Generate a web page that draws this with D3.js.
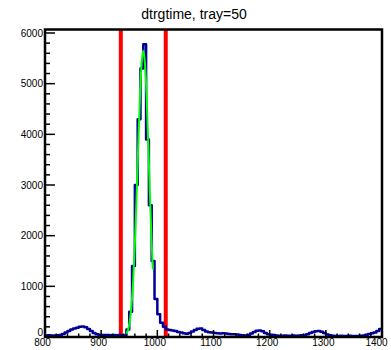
<!DOCTYPE html>
<html><head><meta charset="utf-8">
<script src="https://cdn.jsdelivr.net/npm/d3@7"></script>
<style>html,body{margin:0;padding:0;background:#fff;}svg{display:block;}</style>
</head><body>
<script>
const title = "dtrgtime, tray=50";
const binStart = 800, binWidth = 5;
const counts = [
 30,35,30,30,35,40,60,90,120,150,170,185,200,205,190,160,120,80,55,45,
 40,40,40,35,40,35,40,35,30,150,500,1400,3000,4300,5300,5780,3900,2600,1500,750,
 450,280,200,150,140,130,120,100,90,75,65,80,110,140,165,170,140,110,95,90,
 80,75,70,75,70,60,55,55,50,40,35,30,40,70,100,125,130,115,80,55,
 45,40,30,25,25,30,25,25,30,25,30,35,40,55,80,100,115,120,105,80,
 50,35,25,20,20,25,20,20,25,20,20,20,25,30,45,60,75,90,120,160
];
const fitX = [945,948,951,954,957,960,963,966,969,972,975,978,981,984,987,990,992];
const fitY = [63,148,317,624,1118,1835,2750,3769,4719,5401,5650,5401,4719,3769,2750,1835,1331];
const cutLines = [935, 1015];
const xTicks = [800,900,1000,1100,1200,1300,1400];
const yTicks = [0,1000,2000,3000,4000,5000,6000];

const W = 391, H = 350;
const L = 45, R = 382, T = 29.5, B = 337;
const FONT = "Liberation Sans, Arial, sans-serif";
const svg = d3.select("body").append("svg").attr("width", W).attr("height", H);
const x = d3.scaleLinear().domain([800, 1400]).range([L, R]);
const y = d3.scaleLinear().domain([0, 6069]).range([B, T]);

svg.append("defs").append("clipPath").attr("id","clip")
  .append("rect").attr("x", L).attr("y", T).attr("width", R-L).attr("height", B-T);

svg.append("text").attr("x", 194).attr("y", 19).attr("text-anchor","middle")
  .attr("font-family",FONT).attr("font-size",14).text(title);

const g = svg.append("g").attr("clip-path","url(#clip)");

// red cut lines
g.selectAll("line.cut").data(cutLines).enter().append("line")
  .attr("x1", d=>x(d)).attr("x2", d=>x(d)).attr("y1", T).attr("y2", B)
  .attr("stroke","#ff0000").attr("stroke-width",4);

// histogram steps
const pts = [];
counts.forEach((c,i)=>{ pts.push([binStart+i*binWidth, c]); pts.push([binStart+(i+1)*binWidth, c]); });
g.append("path").datum(pts)
  .attr("d", d3.line().x(d=>x(d[0])).y(d=>y(d[1])))
  .attr("fill","none").attr("stroke","#000099").attr("stroke-width",2.5).attr("stroke-linejoin","round");

// fit curve
g.append("path").datum(fitX.map((v,i)=>[v, fitY[i]]))
  .attr("d", d3.line().x(d=>x(d[0])).y(d=>y(d[1])).curve(d3.curveMonotoneX))
  .attr("fill","none").attr("stroke","#00ff00").attr("stroke-width",2);

// axes
const xAxis = d3.axisBottom(x).tickValues(xTicks).tickFormat(d3.format("d")).tickSize(0).tickPadding(2);
const xa = svg.append("g").attr("transform",`translate(0,${B})`).call(xAxis);
xa.select(".domain").remove();
xa.selectAll("text").attr("font-family",FONT).attr("font-size",10).attr("fill","#000")
  .attr("dx", d => d===1400 ? -6 : -3);

const yAxis = d3.axisLeft(y).tickValues(yTicks).tickFormat(d3.format("d")).tickSize(0).tickPadding(2);
const ya = svg.append("g").attr("transform",`translate(${L},0)`).call(yAxis);
ya.select(".domain").remove();
ya.selectAll("text").attr("font-family",FONT).attr("font-size",10).attr("fill","#000")
  .attr("dy", d => d===0 ? "-0.2em" : "0.32em");

// ticks inward
const xMinor = d3.range(800, 1401, 20);
svg.selectAll("line.xt").data(xMinor).enter().append("line")
  .attr("x1", d=>x(d)).attr("x2", d=>x(d)).attr("y1", B)
  .attr("y2", d=> (d%100===0) ? B-7 : B-3.5).attr("stroke","#000").attr("stroke-width",1.5);
const yMinor = d3.range(0, 6001, 200);
svg.selectAll("line.yt").data(yMinor).enter().append("line")
  .attr("y1", d=>y(d)).attr("y2", d=>y(d)).attr("x1", L)
  .attr("x2", d=> (d%1000===0) ? L+10 : L+5).attr("stroke","#000").attr("stroke-width",1.5);

// frame
svg.append("rect").attr("x", L).attr("y", T).attr("width", R-L).attr("height", B-T)
  .attr("fill","none").attr("stroke","#000").attr("stroke-width",2.5);
</script>
</body></html>
